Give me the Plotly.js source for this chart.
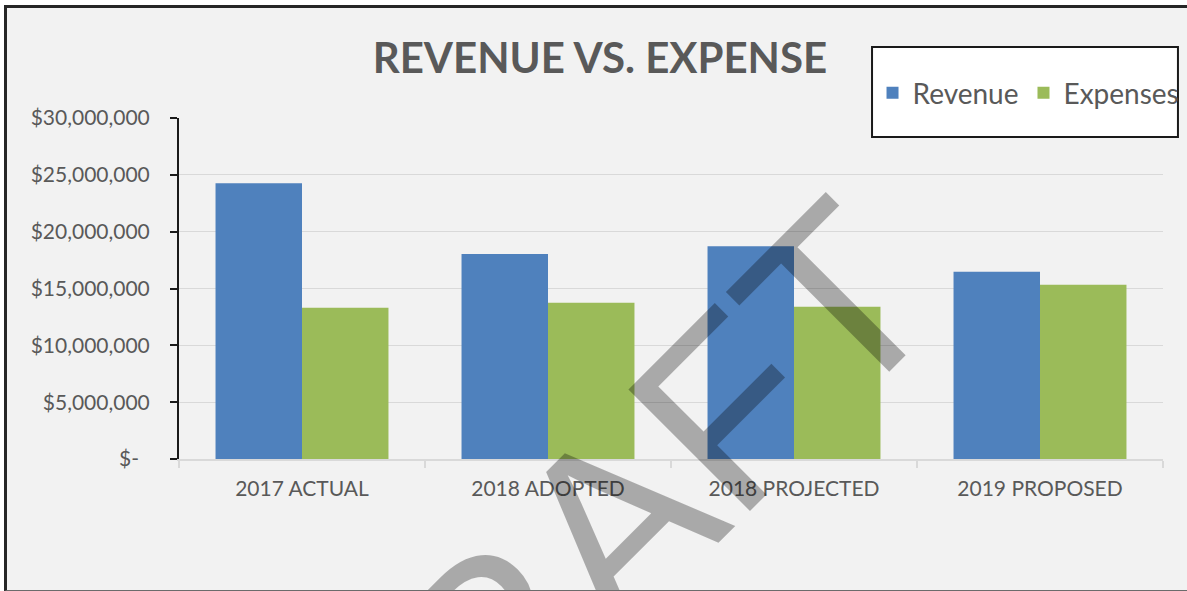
<!DOCTYPE html>
<html><head><meta charset="utf-8">
<script src="https://cdn.plot.ly/plotly-3.0.1.min.js"></script>
<style>
html,body{margin:0;padding:0;background:#fff;width:1187px;height:591px;overflow:hidden}
#frame{position:absolute;left:4px;top:5px;width:1180px;height:582px;border-left:3px solid #262626;border-top:3px solid #262626;border-bottom:1px solid #6b6b6b;background:#f2f2f2}
#chart{width:1180px;height:582px}
</style></head><body>
<div id="frame"><div id="chart"></div></div>
<script>
const categories = ['2017 ACTUAL', '2018 ADOPTED', '2018 PROJECTED', '2019 PROPOSED'];
const revenue = [24250000, 18030000, 18710000, 16480000];
const expenses = [13310000, 13750000, 13400000, 15330000];
const seriesNames = ['Revenue', 'Expenses'];
const seriesColors = ['#4f81bd', '#9bbb59'];
const yTickVals = [0, 5000000, 10000000, 15000000, 20000000, 25000000, 30000000];
const yTickText = ['$-\u00a0\u00a0', '$5,000,000', '$10,000,000', '$15,000,000', '$20,000,000', '$25,000,000', '$30,000,000'];
const chartTitle = 'REVENUE VS. EXPENSE';
const watermark = 'DRAFT';

const traces = [
  {type:'bar', name:seriesNames[0], x:categories, y:revenue, marker:{color:seriesColors[0], line:{width:0}}},
  {type:'bar', name:seriesNames[1], x:categories, y:expenses, marker:{color:seriesColors[1], line:{width:0}}}
];

const layout = {
  width:1180, height:582,
  paper_bgcolor:'#f2f2f2', plot_bgcolor:'#f2f2f2',
  margin:{l:172, r:24, t:110, b:131, pad:0, autoexpand:false},
  font:{family:'Lato, "Open Sans", sans-serif', color:'#595959'},
  title:{text:chartTitle, font:{size:42, family:'Lato, sans-serif', weight:700, color:'#595959'},
         x:0.5025, xref:'container', xanchor:'center', y:0.914, yref:'container', yanchor:'middle', automargin:false},
  barmode:'group', bargap:0.297, bargroupgap:0,
  xaxis:{type:'category', automargin:false, showline:true, linecolor:'#d9d9d9', linewidth:1.5, ticks:'outside', tickson:'boundaries',
         ticklen:7, tickcolor:'#d9d9d9', tickwidth:1.5, showgrid:false, zeroline:false,
         tickfont:{size:21, color:'#595959'}, ticklabelstandoff:10},
  yaxis:{range:[0, 30000000], automargin:false, tickmode:'array', tickvals:yTickVals, ticktext:yTickText, showline:true, linecolor:'#1a1a1a', linewidth:2,
         ticks:'outside', ticklen:7, tickwidth:2, tickcolor:'#1a1a1a', showgrid:true, gridcolor:'#d9d9d9', gridwidth:1,
         zeroline:false, tickfont:{size:21, color:'#595959'}, ticklabelstandoff:16},
  showlegend:true,
  legend:{orientation:'h', x:0.7048, xanchor:'left', y:1.0733, yanchor:'middle', bgcolor:'rgba(0,0,0,0)', borderwidth:0,
          font:{size:28, color:'#595959'}},
  shapes:[{type:'rect', xref:'paper', yref:'paper', x0:0.7043, x1:1.0152, y0:0.9443, y1:1.2082,
           fillcolor:'#ffffff', line:{color:'#1a1a1a', width:2}, layer:'above'}],
  annotations:[{text:watermark, xref:'paper', yref:'paper', x:0.4228, y:-0.2464, xanchor:'center', yanchor:'middle',
                showarrow:false, textangle:-45,
                font:{family:'"Liberation Sans", Arial, sans-serif', size:250, color:'rgba(0,0,0,0.3)'}}]
};

Plotly.newPlot('chart', traces, layout, {staticPlot:true, displayModeBar:false});
</script>
</body></html>
